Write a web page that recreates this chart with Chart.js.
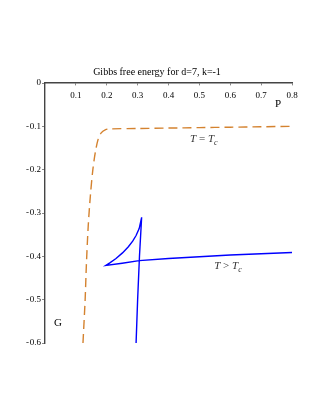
<!DOCTYPE html>
<html>
<head>
<meta charset="utf-8">
<script src="https://cdn.jsdelivr.net/npm/chart.js"></script>
<style>
  html, body { margin: 0; padding: 0; background: #fff; }
  #wrap { width: 321px; height: 415px; }
</style>
</head>
<body>
<div id="wrap"><canvas id="c"></canvas></div>
<script>
// Data
const criticalP = [0.123, 0.130, 0.134, 0.140, 0.147, 0.155, 0.163, 0.172, 0.182, 0.195, 0.21, 0.30, 0.40, 0.50, 0.60, 0.70, 0.80];
const criticalG = [-0.60, -0.50, -0.42, -0.33, -0.26, -0.20, -0.16, -0.13, -0.115, -0.108, -0.106, -0.105, -0.104, -0.103, -0.102, -0.101, -0.100];

const aboveP = [0.295, 0.300, 0.306, 0.313, 0.305, 0.295, 0.284, 0.270, 0.251, 0.230, 0.210, 0.197, 0.250, 0.305, 0.40, 0.50, 0.60, 0.70, 0.80];
const aboveG = [-0.60, -0.50, -0.40, -0.31, -0.336, -0.352, -0.365, -0.378, -0.392, -0.405, -0.415, -0.421, -0.416, -0.410, -0.405, -0.401, -0.397, -0.394, -0.391];

const xTicks = [0.1, 0.2, 0.3, 0.4, 0.5, 0.6, 0.7, 0.8];
const yTicks = [0, -0.1, -0.2, -0.3, -0.4, -0.5, -0.6];

const SERIF = '"Liberation Serif", "DejaVu Serif", serif';

function pts(xs, ys) {
  return xs.map((x, i) => ({ x: x, y: ys[i] }));
}

// Text drawn on top: title, y tick labels, axis names, curve labels
const textPlugin = {
  id: 'texts',
  afterDraw(chart) {
    const ctx = chart.ctx;
    const xs = chart.scales.x, ys = chart.scales.y;
    ctx.save();
    ctx.fillStyle = '#000';

    // y tick labels, left of the axis
    ctx.font = '9px ' + SERIF;
    ctx.textAlign = 'right';
    ctx.textBaseline = 'middle';
    const ax = xs.getPixelForValue(0);
    yTicks.forEach(v => {
      const txt = v === 0 ? '0' : '-\u200a' + Math.abs(v).toFixed(1);
      ctx.fillText(txt, ax - 4, ys.getPixelForValue(v));
    });

    ctx.textBaseline = 'alphabetic';
    ctx.font = '10px ' + SERIF;
    ctx.textAlign = 'center';
    ctx.fillText('Gibbs free energy for d=7, k=-1', 157, 75);

    ctx.font = '11px ' + SERIF;
    ctx.fillText('P', 278, 107);
    ctx.fillText('G', 58, 326);

    ctx.fillStyle = '#333';
    function tLabel(x, y, rel) {
      ctx.textAlign = 'left';
      ctx.font = 'italic 11px ' + SERIF;
      ctx.fillText('T', x, y);
      let cx = x + ctx.measureText('T ').width;
      ctx.font = '11px ' + SERIF;
      ctx.fillText(rel, cx, y);
      cx += ctx.measureText(rel + ' ').width;
      ctx.font = 'italic 11px ' + SERIF;
      ctx.fillText('T', cx, y);
      cx += ctx.measureText('T').width;
      ctx.font = 'italic 8px ' + SERIF;
      ctx.fillText('c', cx, y + 3);
    }
    tLabel(xs.getPixelForValue(0.47), ys.getPixelForValue(-0.136), '=');
    tLabel(xs.getPixelForValue(0.548), ys.getPixelForValue(-0.43), '>');
    ctx.restore();
  }
};

new Chart(document.getElementById('c'), {
  type: 'scatter',
  data: {
    datasets: [
      {
        label: 'T = Tc',
        data: pts(criticalP, criticalG),
        showLine: true,
        borderColor: '#d4822f',
        borderWidth: 1.4,
        borderDash: [9, 5],
        pointRadius: 0,
        tension: 0.3,
        fill: false
      },
      {
        label: 'T > Tc',
        data: pts(aboveP, aboveG),
        showLine: true,
        borderColor: '#0000ff',
        borderWidth: 1.4,
        pointRadius: 0,
        tension: 0,
        fill: false
      }
    ]
  },
  plugins: [textPlugin],
  options: {
    responsive: true,
    maintainAspectRatio: false,
    animation: false,
    layout: { padding: { left: 45, right: 29, top: 83, bottom: 72 } },
    plugins: {
      legend: { display: false },
      title: { display: false },
      tooltip: { enabled: false }
    },
    scales: {
      x: {
        type: 'linear',
        position: { y: 0 },
        min: 0,
        max: 0.8,
        afterBuildTicks: s => { s.ticks = xTicks.map(v => ({ value: v })); },
        grid: { drawOnChartArea: false, drawTicks: true, tickLength: 2, color: '#888' },
        border: { display: true, color: '#444', width: 1.4 },
        ticks: {
          padding: 5,
          color: '#000',
          maxRotation: 0,
          autoSkip: false,
          font: { family: SERIF, size: 9 },
          callback: v => v.toFixed(1)
        }
      },
      y: {
        type: 'linear',
        position: { x: 0 },
        min: -0.6,
        max: 0,
        afterBuildTicks: s => { s.ticks = yTicks.map(v => ({ value: v })); },
        grid: { drawOnChartArea: false, drawTicks: true, tickLength: 2, color: '#888' },
        border: { display: true, color: '#444', width: 1.4 },
        ticks: { display: false }
      }
    }
  }
});
</script>
</body>
</html>
